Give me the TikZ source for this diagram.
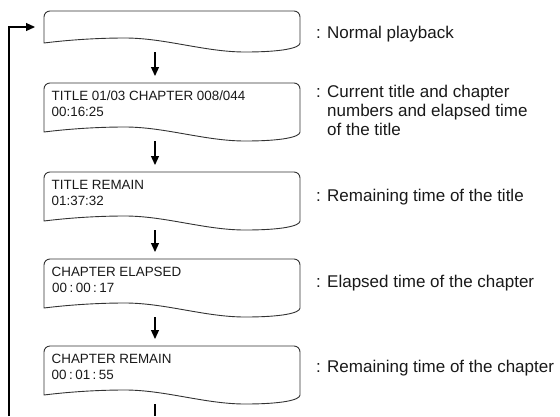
\documentclass[tikz,border=0pt]{standalone}
\usepackage{fontspec}
\setmainfont{Liberation Sans}
\usetikzlibrary{arrows.meta}
\tikzset{
  boxline/.style={draw=black!80, line width=0.9pt, line join=round},
  boxarea/.style={inner sep=0pt, outer sep=0pt, anchor=north west, minimum width=256pt},
  arr/.style={draw=black, line width=1.2pt, -{Triangle[length=9pt,width=8pt]}},
  flow/.style={draw=black, line width=1.2pt},
  boxtext/.style={anchor=base west, inner sep=0pt, font=\fontsize{13.4}{16}\selectfont, text=black!90},
  lbl/.style={anchor=base west, inner sep=0pt, font=\fontsize{17}{19}\selectfont, text=black!90}
}
\newcommand\wbox[2]{%
  \draw[boxline] (44,#1+#2) [rounded corners=6pt] -- (44,#1) -- (300,#1) -- (300,#1+#2-6)
    [sharp corners] .. controls (300,#1+#2+5) and (282,#1+#2+9) .. (245,#1+#2+9)
    .. controls (205,#1+#2+9) and (165,#1+#2-5) .. (125,#1+#2-5)
    .. controls (90,#1+#2-5) and (60,#1+#2-2) .. (44,#1+#2) -- cycle;}
\newcommand\cl{\kern2.5pt:\kern2.5pt}
\begin{document}
\begin{tikzpicture}[x=1pt,y=-1pt]
\useasboundingbox (0,0) rectangle (560,416);
% box areas
\node[boxarea, minimum height=32pt] (b1) at (44,11) {};
\node[boxarea, minimum height=49pt] (b2) at (44,83) {};
\node[boxarea, minimum height=49pt] (b3) at (44,172) {};
\node[boxarea, minimum height=49pt] (b4) at (44,259) {};
\node[boxarea, minimum height=49pt] (b5) at (44,346) {};
% outlines
\wbox{11}{32}
\wbox{83}{49}
\wbox{172}{49}
\wbox{259}{49}
\wbox{346}{49}
% box texts
\node[boxtext] (t2a) at (51.5,100) {TITLE 01/03 CHAPTER 008/044};
\node[boxtext] (t2b) at (51.5,116) {00:16:25};
\node[boxtext] (t3a) at (51.5,189) {TITLE REMAIN};
\node[boxtext] (t3b) at (51.5,205) {01:37:32};
\node[boxtext] (t4a) at (51.5,276) {CHAPTER ELAPSED};
\node[boxtext] (t4b) at (52,292) {00\cl00\cl17};
\node[boxtext] (t5a) at (51.5,363) {CHAPTER REMAIN};
\node[boxtext] (t5b) at (51.5,379) {00\cl01\cl55};
% labels
\node[lbl] (l1) at (316,38) {: Normal playback};
\node[lbl] (l2a) at (316,97) {: Current title and chapter};
\node[lbl] (l2b) at (316,116) {\hphantom{: }numbers and elapsed time};
\node[lbl] (l2c) at (316,135) {\hphantom{: }of the title};
\node[lbl] (l3) at (316,201) {: Remaining time of the title};
\node[lbl] (l4) at (316,287) {: Elapsed time of the chapter};
\node[lbl] (l5) at (316,372) {: Remaining time of the chapter};
% connector start points
\coordinate (w1) at (155,52);
\coordinate (w2) at (155,141);
\coordinate (w3) at (155,230);
\coordinate (w4) at (155,317);
\coordinate (w5) at (155,404);
\coordinate (e5) at (155,416);
\coordinate (lb) at (9,416);
\coordinate (lt) at (9,27);
\draw[arr, shorten >=7pt] (w1) -- (w1 |- b2.north);
\draw[arr, shorten >=7pt] (w2) -- (w2 |- b3.north);
\draw[arr, shorten >=7pt] (w3) -- (w3 |- b4.north);
\draw[arr, shorten >=7pt] (w4) -- (w4 |- b5.north);
\draw[flow] (w5) -- (e5);
\draw[arr, shorten >=9pt] (lb) -- (lt) -- (lt -| b1.west);
\end{tikzpicture}
\end{document}
